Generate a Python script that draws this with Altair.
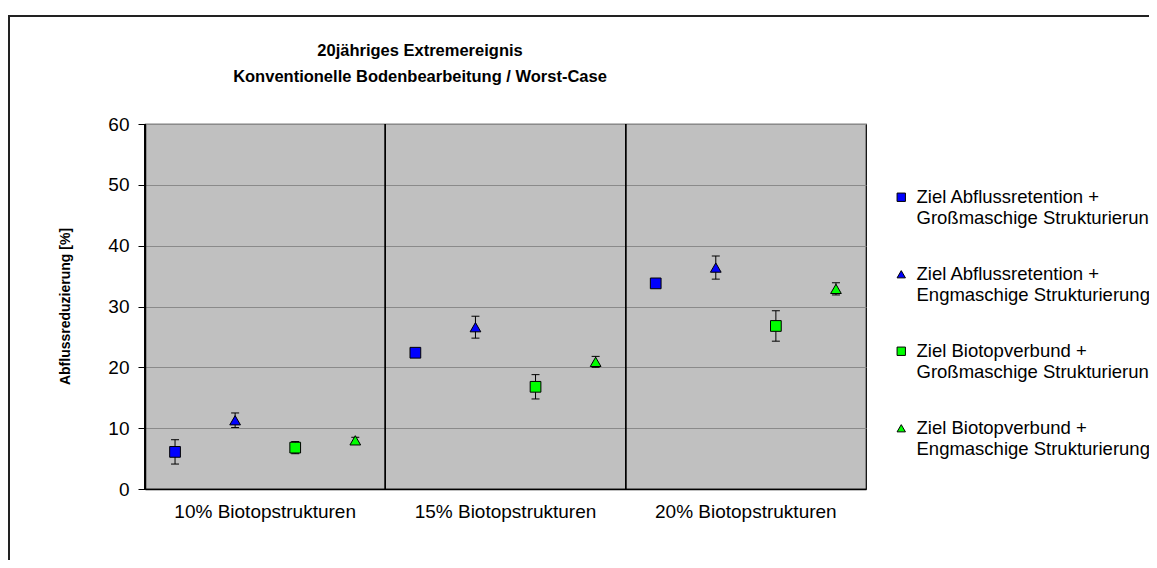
import altair as alt
import pandas as pd

groups = ["10% Biotopstrukturen", "15% Biotopstrukturen", "20% Biotopstrukturen"]
series = [
    "Ziel Abflussretention +|Großmaschige Strukturierung",
    "Ziel Abflussretention +|Engmaschige Strukturierung",
    "Ziel Biotopverbund +|Großmaschige Strukturierung",
    "Ziel Biotopverbund +|Engmaschige Strukturierung",
]
colors = ["#0000FF", "#0000FF", "#00FF00", "#00FF00"]
shapes = ["square", "triangle-up", "square", "triangle-up"]

ar_gross = [6.1, 22.4, 33.8]
ar_gross_err = [2.0, 0.4, 0.4]
ar_eng = [11.3, 26.6, 36.4]
ar_eng_err = [1.2, 1.8, 1.9]
bv_gross = [6.8, 16.8, 26.8]
bv_gross_err = [1.0, 2.0, 2.5]
bv_eng = [8.0, 20.9, 32.9]
bv_eng_err = [0.5, 0.9, 1.0]

values = [ar_gross, ar_eng, bv_gross, bv_eng]
errors = [ar_gross_err, ar_eng_err, bv_gross_err, bv_eng_err]

rows = []
for s, vals, errs in zip(series, values, errors):
    for g, v, e in zip(groups, vals, errs):
        rows.append({"group": g, "series": s, "value": v, "lo": v - e, "hi": v + e})
df = pd.DataFrame(rows)

FONT = "Liberation Sans"

xscale = alt.Scale(paddingInner=0, paddingOuter=0)
xaxis = alt.Axis(title=None, tickSize=0, labelPadding=13, labelAngle=0,
                 labelAlign="center", bandPosition=0.5, labelLimit=400,
                 labelFontSize=19, labelFont=FONT, labelColor="#000",
                 domainColor="#000", domainWidth=1.5, grid=False)
xenc = alt.X("group:N", sort=groups, scale=xscale, axis=xaxis)
xoff = alt.XOffset("series:N", sort=series, scale=alt.Scale(paddingInner=0, paddingOuter=0))
yscale = alt.Scale(domain=[0, 60])
yenc = alt.Y("value:Q", scale=yscale,
             axis=alt.Axis(title="Abflussreduzierung [%]", values=[0, 10, 20, 30, 40, 50, 60],
                           tickSize=7, tickColor="#000", domainColor="#000", domainWidth=1.5,
                           labelFontSize=19, labelFont=FONT, labelColor="#000", labelPadding=9,
                           gridColor="#8a8a8a", gridWidth=1.2,
                           titleFont=FONT, titleFontSize=14, titleFontWeight="bold",
                           titleColor="#000", titleX=-80, titleY=182, titleAngle=-90,
                           titleBaseline="middle", titleAlign="center"))

base = alt.Chart(df)

dividers = base.mark_rule(color="#000", strokeWidth=1.2).encode(
    x=alt.X("group:N", sort=groups, scale=xscale, bandPosition=0, axis=xaxis)
)

err_rule = base.mark_rule(color="#000", strokeWidth=1).encode(
    x=xenc, xOffset=xoff, y=alt.Y("lo:Q", scale=yscale), y2="hi:Q"
)
cap_shape = "M-1,0L1,0"
cap_hi = base.mark_point(shape=cap_shape, size=64, stroke="#000", strokeWidth=1,
                         filled=False, opacity=1).encode(
    x=xenc, xOffset=xoff, y=alt.Y("hi:Q", scale=yscale)
)
cap_lo = base.mark_point(shape=cap_shape, size=64, stroke="#000", strokeWidth=1,
                         filled=False, opacity=1).encode(
    x=xenc, xOffset=xoff, y=alt.Y("lo:Q", scale=yscale)
)

points = base.mark_point(filled=True, size=115, stroke="#000", strokeWidth=1,
                         opacity=1).encode(
    x=xenc, xOffset=xoff, y=yenc,
    color=alt.Color("series:N", sort=series,
                    scale=alt.Scale(domain=series, range=colors),
                    legend=alt.Legend(title=None, orient="none", legendX=747, legendY=64,
                                      labelExpr="split(datum.label, '|')",
                                      labelFont=FONT, labelFontSize=18.5, labelColor="#000",
                                      symbolSize=70, symbolStrokeColor="#000",
                                      symbolStrokeWidth=1, labelOffset=6,
                                      rowPadding=37, padding=0, labelBaseline="middle",
                                      labelLimit=400)),
    shape=alt.Shape("series:N", sort=series,
                    scale=alt.Scale(domain=series, range=shapes), legend=None),
)

border = alt.Chart(pd.DataFrame({"a": [0]})).mark_rect(
    fill=None, stroke="#222", strokeWidth=2, clip=False
).encode(x=alt.value(-136), x2=alt.value(1100), y=alt.value(-108), y2=alt.value(600))

chart = alt.layer(dividers, err_rule, cap_hi, cap_lo, points, border).properties(
    width=721, height=365,
    title=alt.TitleParams(
        text=["20jähriges Extremereignis", "Konventionelle Bodenbearbeitung / Worst-Case"],
        font=FONT, fontSize=16.5, fontWeight="bold", color="#000",
        anchor="start", frame="group", align="center", dx=275, offset=-70, lineHeight=26),
    autosize=alt.AutoSizeParams(type="none"),
    padding={"left": 137, "top": 116, "right": 283, "bottom": 71},
    background="#ffffff",
).configure_view(fill="#c0c0c0", stroke="#000", strokeWidth=1.2)

chart.save("out.html", embed_options={"renderer": "svg", "actions": False})
